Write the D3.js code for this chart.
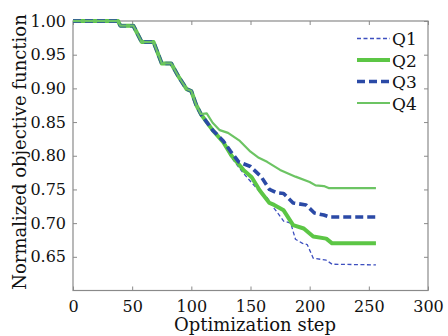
<!DOCTYPE html>
<html>
<head>
<meta charset="utf-8">
<script src="https://cdn.jsdelivr.net/npm/d3@7"></script>
<style>
  body { margin: 0; background: #fff; }
  text { font-family: "DejaVu Serif", serif; fill: #111; }
</style>
</head>
<body>
<div id="chart-area"></div>
<script>
// values
const shared = [[0, 1.0], [38, 1.0], [40, 0.993], [51, 0.993], [58, 0.969], [68, 0.969],
  [75, 0.937], [83, 0.937], [89, 0.918], [96, 0.899], [100, 0.896], [104, 0.876], [108, 0.862]]

const q1Tail = [[113, 0.85], [118, 0.838], [127, 0.819], [134, 0.797], [144, 0.774], [151, 0.760],
  [160, 0.742], [164, 0.738], [170, 0.722], [178, 0.703], [184, 0.700], [188, 0.676], [194, 0.670],
  [198, 0.668], [203, 0.648], [214, 0.645], [219, 0.639], [256, 0.638]]
const q2Tail = [[113, 0.85], [118, 0.838], [127, 0.820], [134, 0.800], [144, 0.779], [151, 0.768],
  [158, 0.748], [166, 0.730], [170, 0.727], [178, 0.719], [186, 0.697], [195, 0.692], [203, 0.680],
  [214, 0.677], [219, 0.670], [256, 0.670]]
const q3Tail = [[113, 0.85], [118, 0.838], [127, 0.822], [133, 0.807], [140, 0.791], [150, 0.784],
  [159, 0.769], [166, 0.750], [172, 0.745], [178, 0.744], [186, 0.730], [197, 0.727], [204, 0.715],
  [212, 0.712], [217, 0.709], [256, 0.709]]
const q4Tail = [[113, 0.863], [118, 0.849], [124, 0.838], [131, 0.834], [141, 0.822], [150, 0.806],
  [157, 0.797], [164, 0.791], [175, 0.779], [188, 0.769], [200, 0.761], [205, 0.756], [212, 0.755],
  [216, 0.752], [256, 0.752]]

const seriesNames = ["Q1", "Q2", "Q3", "Q4"]
const xTicks = [0, 50, 100, 150, 200, 250, 300]
const yTicks = [0.65, 0.70, 0.75, 0.80, 0.85, 0.90, 0.95, 1.00]

const series = [
  { name: seriesNames[0], values: shared.concat(q1Tail), color: "#3d4fbf", width: 1.3, dash: "4,2.5" },
  { name: seriesNames[1], values: shared.concat(q2Tail), color: "#5cc645", width: 4, dash: null },
  { name: seriesNames[2], values: shared.concat(q3Tail), color: "#2b4aa6", width: 3.6, dash: "8,4" },
  { name: seriesNames[3], values: shared.concat(q4Tail), color: "#6cc463", width: 2.2, dash: null }
]

const W = 448, H = 336
const plotLeft = 73, plotRight = 428, plotTop = 21, plotBottom = 290.5

const svg = d3.select("#chart-area").append("svg")
  .attr("width", W)
  .attr("height", H)

const x = d3.scaleLinear().domain([0, 300]).range([plotLeft, plotRight])
const y = d3.scaleLinear().domain([0.6, 1.0]).range([plotBottom, plotTop])

// frame
svg.append("rect")
  .attr("x", plotLeft).attr("y", plotTop)
  .attr("width", plotRight - plotLeft).attr("height", plotBottom - plotTop)
  .attr("fill", "none").attr("stroke", "#8a8a8a").attr("stroke-width", 1.2)

// axes with inward ticks
svg.append("g").attr("transform", `translate(0,${plotBottom})`)
  .call(d3.axisBottom(x).tickValues(xTicks).tickSizeInner(-4).tickSizeOuter(0).tickPadding(10))
svg.append("g").attr("transform", `translate(0,${plotTop})`)
  .call(d3.axisTop(x).tickValues(xTicks).tickSizeInner(-4).tickSizeOuter(0).tickFormat(""))
svg.append("g").attr("transform", `translate(${plotLeft},0)`)
  .call(d3.axisLeft(y).tickValues(yTicks).tickSizeInner(-4).tickSizeOuter(0).tickPadding(7).tickFormat(d3.format(".2f")))
svg.append("g").attr("transform", `translate(${plotRight},0)`)
  .call(d3.axisRight(y).tickValues(yTicks).tickSizeInner(-4).tickSizeOuter(0).tickFormat(""))

svg.selectAll(".domain").remove()
svg.selectAll(".tick line").attr("stroke", "#8a8a8a")
svg.selectAll(".tick text")
  .style("font-family", "DejaVu Serif, serif")
  .style("font-size", "16px")
  .attr("fill", "#111")

// curves
const line = d3.line()
  .x(d => x(d[0]))
  .y(d => y(d[1]))

svg.selectAll("path.curve")
  .data(series)
  .enter().append("path")
  .attr("class", "curve")
  .attr("d", d => line(d.values))
  .attr("fill", "none")
  .attr("stroke", d => d.color)
  .attr("stroke-width", d => d.width)
  .attr("stroke-dasharray", d => d.dash)
  .attr("stroke-linejoin", "round")

// legend
const legend = svg.selectAll("g.legend")
  .data(series)
  .enter().append("g")
  .attr("class", "legend")
  .attr("transform", (d, i) => `translate(357,${38.5 + i * 21.5})`)

legend.append("line")
  .attr("x1", 0).attr("x2", 33)
  .attr("stroke", d => d.color)
  .attr("stroke-width", d => d.width)
  .attr("stroke-dasharray", d => d.dash)

legend.append("text")
  .attr("x", 35).attr("y", 6.5)
  .style("font-size", "17px")
  .text(d => d.name)

// axis titles
svg.append("text")
  .attr("x", 255).attr("y", 331)
  .attr("text-anchor", "middle")
  .style("font-size", "18px")
  .text("Optimization step")

svg.append("text")
  .attr("transform", "translate(26,152) rotate(-90)")
  .attr("text-anchor", "middle")
  .style("font-size", "18px")
  .text("Normalized objective function")
</script>
</body>
</html>
